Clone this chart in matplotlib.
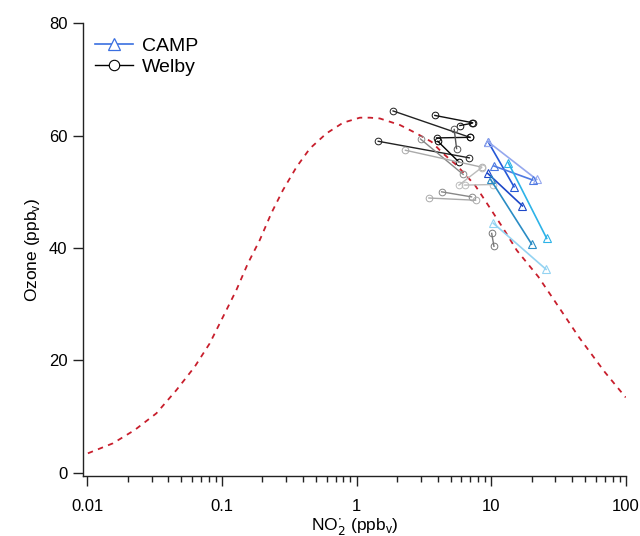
import matplotlib
matplotlib.use("Agg")
import matplotlib.pyplot as plt
import numpy as np

# ---- data ----
curve_no2 = [0.0101, 0.0155, 0.0225, 0.0326, 0.0459, 0.0628, 0.0811, 0.102, 0.128, 0.156,
             0.191, 0.233, 0.284, 0.358, 0.45, 0.598, 0.794, 1.06, 1.26, 1.49, 2.10, 2.79,
             3.61, 4.41, 5.54, 7.58, 9.0, 12.3, 15.5, 22.4, 30.0, 45.0, 70.0, 100.0]
curve_o3 = [3.45, 5.23, 7.6, 10.57, 14.7, 18.86, 23.0, 27.76, 32.5, 37.26,
            41.4, 46.2, 50.3, 54.4, 57.7, 60.4, 62.3, 63.2, 63.2, 63.06, 61.9, 60.4,
            58.9, 56.8, 54.75, 51.2, 48.5, 43.5, 39.6, 34.9, 30.4, 24.1, 17.9, 13.4]

welby_no2_a = [1.87, 3.82, 5.86, 3.93, 5.32, 1.45, 2.99, 4.02, 2.31, 5.77, 6.38, 4.29, 3.45, 10.1]
welby_no2_b = [6.96, 7.28, 7.20, 6.96, 5.54, 6.88, 6.20, 5.77, 8.49, 8.49, 10.4, 7.16, 7.67, 10.5]
welby_o3_a = [64.4, 63.6, 61.8, 59.6, 61.1, 59.0, 59.4, 59.0, 57.4, 51.2, 51.2, 50.0, 48.9, 42.6]
welby_o3_b = [59.7, 62.3, 62.2, 59.7, 57.7, 56.05, 53.1, 55.3, 54.4, 54.3, 51.3, 49.1, 48.5, 40.3]
welby_colors = ["#222222", "#111111", "#111111", "#111111", "#555555", "#222222", "#888888",
                "#000000", "#aaaaaa", "#bbbbbb", "#bbbbbb", "#888888", "#aaaaaa", "#777777"]

camp_no2_a = [9.51, 9.51, 10.5, 13.4, 9.42, 9.91, 10.4]
camp_no2_b = [14.8, 21.8, 20.4, 25.9, 17.1, 20.0, 25.6]
camp_o3_a = [58.9, 58.9, 54.6, 55.2, 53.3, 52.2, 44.4]
camp_o3_b = [50.9, 52.2, 52.1, 41.7, 47.5, 40.7, 36.2]
camp_colors = ["#2457d6", "#95a8ee", "#4d79e2", "#2db3e8", "#1d47c8", "#2a8cc4", "#93d3f2"]

xticks = [0.01, 0.1, 1, 10, 100]
xticklabels = ["0.01", "0.1", "1", "10", "100"]
yticks = [0, 20, 40, 60, 80]

plt.rcParams['font.family'] = ['Liberation Sans', 'DejaVu Sans']

fig = plt.figure(figsize=(6.4, 5.36), dpi=100)
ax = fig.add_axes([83.3 / 640, (536 - 475.7) / 536, 542.4 / 640, 452.4 / 536])

ax.plot(curve_no2, curve_o3, color="#c81e2c", lw=1.3, dashes=(3, 3), zorder=1)

for x0, x1, y0, y1, c in zip(welby_no2_a, welby_no2_b, welby_o3_a, welby_o3_b, welby_colors):
    ax.plot([x0, x1], [y0, y1], color=c, lw=1.0, marker="o", ms=4.8, mfc="none",
            mec=c, mew=0.7, zorder=2)
for x0, x1, y0, y1, c in zip(camp_no2_a, camp_no2_b, camp_o3_a, camp_o3_b, camp_colors):
    ax.plot([x0, x1], [y0, y1], color=c, lw=1.2, marker="^", ms=5.2, mfc="none",
            mec=c, mew=0.8, zorder=3)

h1, = ax.plot([], [], color="#3a6fe0", lw=1.2, marker="^", ms=8, mfc="white", mec="#3a6fe0", mew=0.9)
h2, = ax.plot([], [], color="#000000", lw=1.0, marker="o", ms=7.5, mfc="white", mec="#000000", mew=0.8)
ax.legend([h1, h2], ["CAMP", "Welby"], loc="upper left", bbox_to_anchor=(0.008, 0.987),
          frameon=False, fontsize=14, handlelength=1.95, handletextpad=0.45,
          labelspacing=0.2, borderaxespad=0.0)

ax.set_xscale("log")
ax.set_xlim(10 ** (-2 - 4 / 134.5), 100)
ax.set_ylim(-3 / 5.62, 80)

ax.spines["top"].set_visible(False)
ax.spines["right"].set_visible(False)
for s in ("left", "bottom"):
    ax.spines[s].set_color("#222222")
    ax.spines[s].set_linewidth(1.0)

ax.set_xticks(xticks)
ax.set_xticklabels(xticklabels)
ax.set_yticks(yticks)
ax.set_yticklabels([str(v) for v in yticks])
ax.xaxis.set_minor_locator(matplotlib.ticker.LogLocator(base=10, subs=np.arange(2, 10)))
ax.xaxis.set_minor_formatter(matplotlib.ticker.NullFormatter())
ax.tick_params(axis="both", which="major", direction="out", length=7.5, width=1.0,
               color="#222222", labelsize=12)
ax.tick_params(axis="x", which="major", pad=9)
ax.tick_params(axis="y", which="major", pad=4)
ax.tick_params(axis="x", which="minor", direction="out", length=4.5, width=1.0, color="#222222")

ax.set_xlabel("NO$_2^{\\cdot}$ (ppb$_\\mathregular{v}$)", fontsize=12.5, labelpad=2)
ax.set_ylabel("Ozone (ppb$_\\mathregular{v}$)", fontsize=12.5, labelpad=5)

fig.savefig("out.png", dpi=100)
